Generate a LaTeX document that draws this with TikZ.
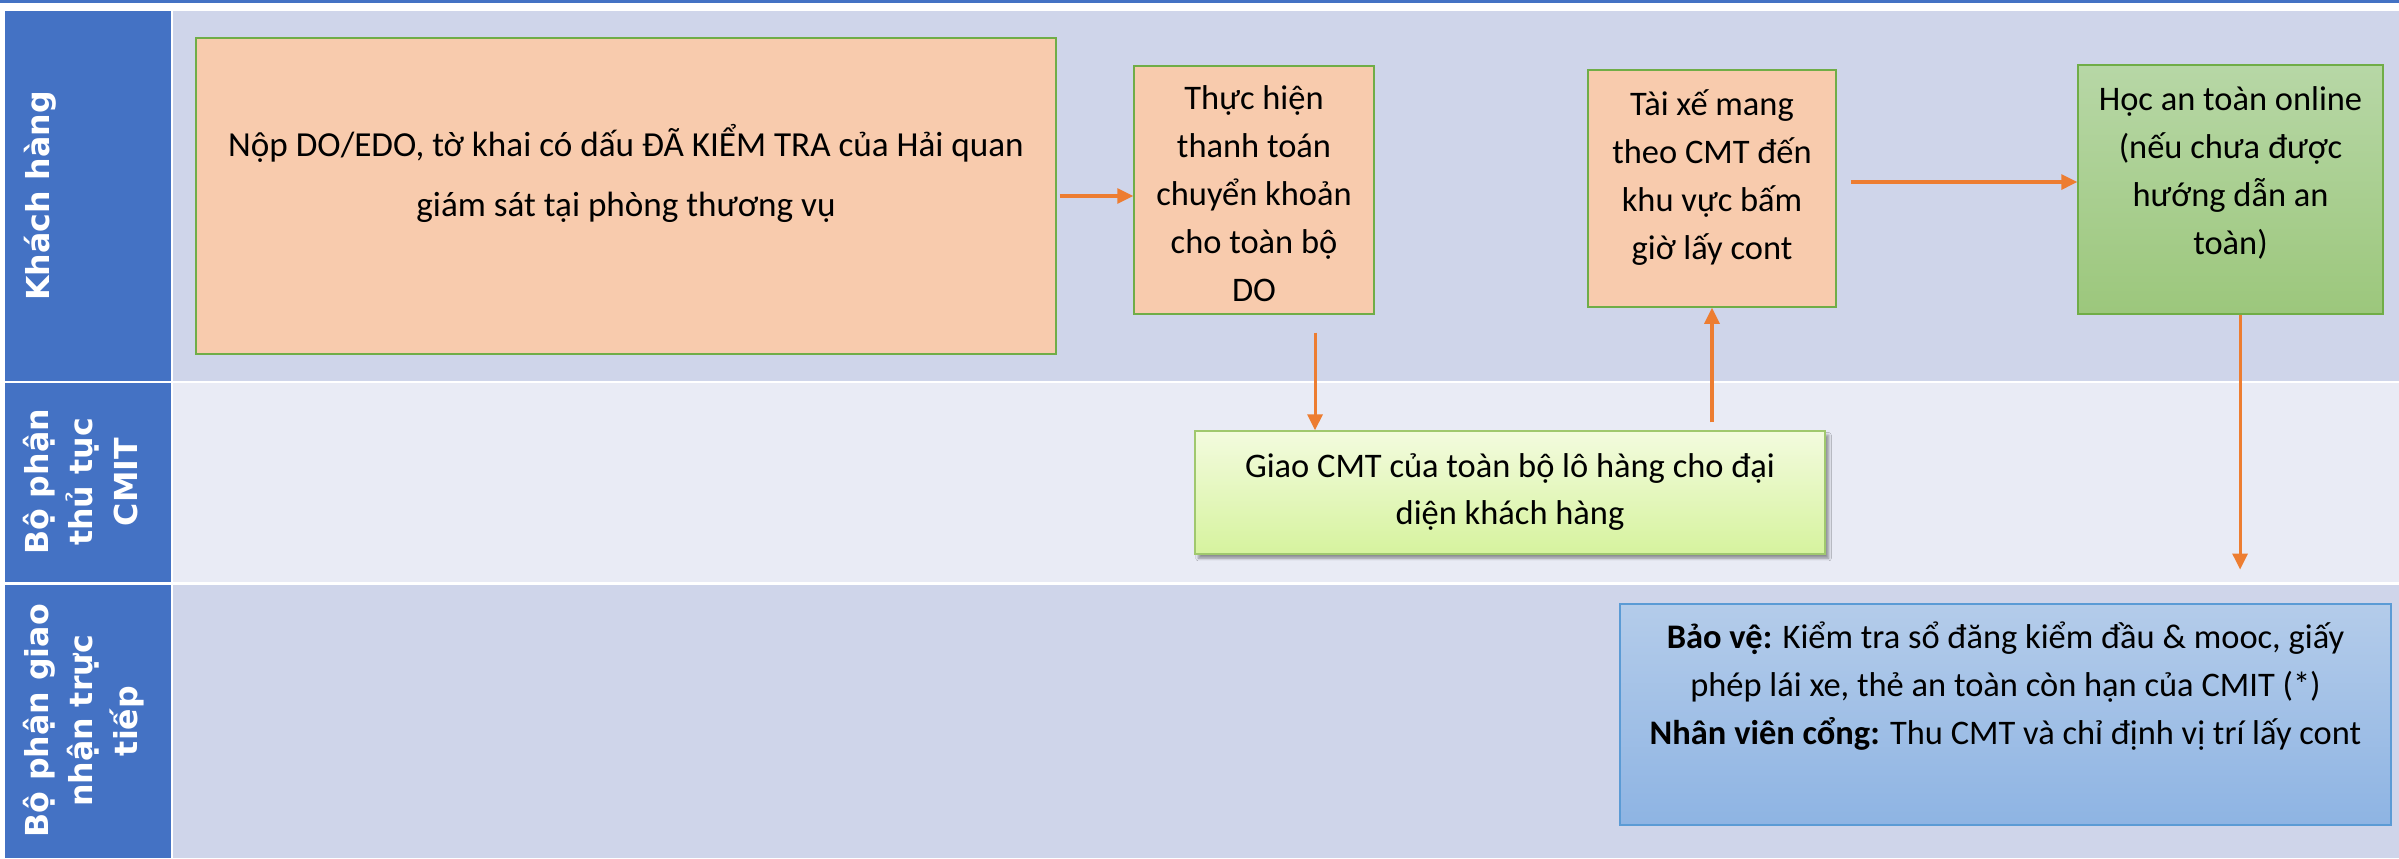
\documentclass[tikz,border=0pt]{standalone}
\usepackage{fontspec}
\setmainfont{Carlito}
\newfontfamily\lanefont{DejaVu Sans}
\usepackage{xcolor}
\usetikzlibrary{arrows.meta,calc,positioning,shadows.blur}
\definecolor{laneblue}{HTML}{4472C4}
\definecolor{lanedark}{HTML}{CFD5EA}
\definecolor{lanelight}{HTML}{E9EBF5}
\definecolor{peach}{HTML}{F8CBAD}
\definecolor{boxgreen}{HTML}{70AD47}
\definecolor{arroworange}{HTML}{ED7D31}
\newcommand{\cellrows}[1]{\begin{tabular}[t]{@{}c@{}}#1\end{tabular}}

\begin{document}
\begin{tikzpicture}[
    x=0.025cm, y=-0.025cm,
    lanehead/.style={rotate=90, anchor=base, inner sep=0, text=white,
        font=\lanefont\bfseries\fontsize{22.5}{32}\selectfont},
    stepbox/.style={draw=boxgreen, line width=1pt, fill=peach, inner sep=0,
        font=\fontsize{24.5}{34}\selectfont},
    learnbox/.style={stepbox, top color={rgb,255:red,183;green,215;blue,166},
        bottom color={rgb,255:red,156;green,199;blue,124}},
    handbox/.style={stepbox, draw={rgb,255:red,160;green,200;blue,110},
        top color={rgb,255:red,243;green,251;blue,222}, bottom color={rgb,255:red,214;green,243;blue,158},
        blur shadow={shadow xshift=2.5pt, shadow yshift=-3pt, shadow blur steps=6, shadow opacity=40}},
    gatebox/.style={stepbox, draw={rgb,255:red,91;green,155;blue,213},
        top color={rgb,255:red,180;green,204;blue,234}, bottom color={rgb,255:red,142;green,180;blue,227}},
    flow/.style={draw=arroworange, line width=2.2pt, -{Triangle[length=11.4pt,width=10.7pt]}}]
\useasboundingbox (0,0) rectangle (2399,858);
\fill[white] (0,0) rectangle (2399,858);
\fill[laneblue] (0,0) rectangle (2399,3);
\fill[laneblue] (5,11) rectangle (171,381);
\fill[laneblue] (5,383) rectangle (171,582);
\fill[laneblue] (5,585) rectangle (171,858);
\fill[lanedark] (173,11) rectangle (2399,381);
\fill[lanelight] (173,383) rectangle (2399,582);
\fill[lanedark] (173,585) rectangle (2399,858);

\node[lanehead] (khach) at (49,196) {Khách hàng};
\node[lanehead] (thutuc) at (48,482) {\cellrows{Bộ phận\\thủ tục\\CMIT}};
\node[lanehead] (giaonhan) at (48,721) {\cellrows{Bộ phận giao\\nhận trực\\tiếp}};

\node[stepbox, minimum width=21.5cm, text height=2.975cm, text depth=4.925cm,
    font=\fontsize{25}{42}\selectfont] (nop) at (626,196)
    {\cellrows{Nộp DO/EDO, tờ khai có dấu ĐÃ KIỂM TRA của Hải quan\\giám sát tại phòng thương vụ}};
\node[stepbox, minimum width=6cm, text height=1.1cm, text depth=5.1cm] (thuchien) at (1254,190)
    {\cellrows{Thực hiện\\thanh toán\\chuyển khoản\\cho toàn bộ\\DO}};
\node[stepbox, minimum width=6.2cm, text height=1.15cm, text depth=4.775cm] (taixe) at (1712,188.5)
    {\cellrows{Tài xế mang\\theo CMT đến\\khu vực bấm\\giờ lấy cont}};
\node[learnbox, minimum width=7.625cm, text height=1.15cm, text depth=5.075cm] (hoc) at (2230.5,189.5)
    {\cellrows{Học an toàn online\\(nếu chưa được\\hướng dẫn an\\toàn)}};
\node[handbox, minimum width=15.75cm, text height=1.15cm, text depth=1.925cm] (giao) at (1510,492.5)
    {\cellrows{Giao CMT của toàn bộ lô hàng cho đại\\diện khách hàng}};
\node[gatebox, minimum width=19.275cm, text height=1.125cm, text depth=4.4cm] (baove) at (2005.5,714.5)
    {\cellrows{\textbf{Bảo vệ:} Kiểm tra sổ đăng kiểm đầu \& mooc, giấy\\phép lái xe, thẻ an toàn còn hạn của CMIT (*)\\\textbf{Nhân viên cổng:} Thu CMT và chỉ định vị trí lấy cont}};

\draw[flow] ([xshift=2pt]nop.east) -- (nop.east -| thuchien.west);
\draw[flow] ([xshift=43.4pt,yshift=-12.8pt]thuchien.south) -- ([xshift=43.4pt]thuchien.south |- giao.north);
\draw[flow] ([yshift=5.7pt]taixe.south |- giao.north) -- (taixe.south);
\draw[flow] ([xshift=10pt,yshift=4.6pt]taixe.east) -- ([yshift=4.6pt]taixe.east -| hoc.west);
\draw[flow] ([xshift=6.8pt]hoc.south) -- ([xshift=6.8pt,yshift=24pt]hoc.south |- baove.north);

\end{tikzpicture}
\end{document}
